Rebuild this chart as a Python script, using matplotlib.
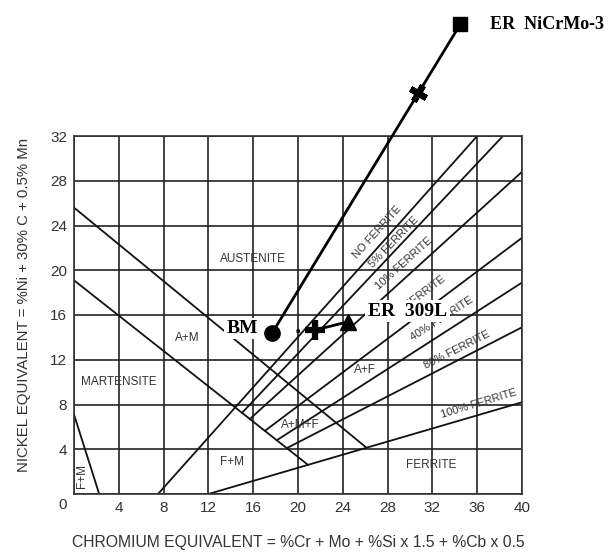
import numpy as np
import matplotlib.pyplot as plt

# Schaeffler diagram with BM / ER 309L / ER NiCrMo-3 points

# region boundaries (Cr eq, Ni eq)
upper_x = [0, 26.1]
upper_y = [25.6, 4.15]
lower_x = [0, 20.9]
lower_y = [19.1, 2.6]
fm_x = [0, 2.25]
fm_y = [7.1, 0]

# ferrite iso-lines: start and end points
ferrite_names = ['0', '5', '10', '20', '40', '80', '100']
ferrite_x0 = [7.5, 15.0, 15.7, 17.05, 18.1, 19.0, 12.0]
ferrite_y0 = [0.0, 7.25, 6.7, 5.65, 4.8, 4.1, 0.0]
ferrite_x1 = [36.0, 38.3, 40.0, 40.0, 40.0, 40.0, 40.0]
ferrite_y1 = [32.0, 32.0, 28.8, 22.9, 18.9, 14.9, 8.2]

# ferrite labels
flab_text = ['NO FERRITE', '5% FERRITE', '10% FERRITE', '20% FERRITE',
             '40% FERRITE', '80% FERRITE', '100% FERRITE']
flab_x = [27.1, 28.6, 29.5, 30.5, 32.85, 34.2, 36.1]
flab_y = [23.4, 22.55, 20.65, 17.35, 15.65, 12.85, 8.05]
flab_rot = [48, 46, 42, 37, 33, 27, 17]

# phase region labels
region_text = ['AUSTENITE', 'A+M', 'MARTENSITE', 'A+M+F', 'F+M', 'A+F', 'FERRITE']
region_x = [16.0, 10.1, 4.0, 20.2, 14.1, 26.0, 31.9]
region_y = [21.0, 13.9, 10.0, 6.2, 2.9, 11.1, 2.6]

# measured points
bm = (17.7, 14.4)
er309_plus = (21.5, 14.65)
er309_tri = (24.5, 15.4)
nicr_mid = (30.7, 35.8)
nicr_end = (34.5, 42.0)

xticks = list(range(0, 41, 4))
yticks = list(range(0, 33, 4))

fig = plt.figure(figsize=(6.09, 5.52), dpi=100)
ax = fig.add_axes([74/609, 58/552, 448/609, 358/552])
ax.set_xlim(0, 40)
ax.set_ylim(0, 32)
ax.set_xticks(xticks)
ax.set_yticks(yticks)
ax.set_xticklabels([''] + [str(t) for t in xticks[1:]])
ax.set_yticklabels([''] + [str(t) for t in yticks[1:]])
ax.tick_params(length=0, pad=5, labelsize=11, labelcolor='#333333')
for lab in ax.get_xticklabels() + ax.get_yticklabels():
    lab.set_family('Liberation Sans')
ax.grid(True, color='#222222', lw=1.2)
ax.set_axisbelow(True)
for s in ax.spines.values():
    s.set_color('#333333')
    s.set_linewidth(1.2)
ax.annotate('0', xy=(0, 0), xytext=(-11, -11), textcoords='offset pixels',
            ha='center', va='center', fontsize=11, color='#333333',
            family='Liberation Sans', annotation_clip=False)

lc = '#111111'
ax.plot(upper_x, upper_y, color=lc, lw=1.3)
ax.plot(lower_x, lower_y, color=lc, lw=1.3)
ax.plot(fm_x, fm_y, color=lc, lw=1.3)
for i in range(len(ferrite_names)):
    ax.plot([ferrite_x0[i], ferrite_x1[i]], [ferrite_y0[i], ferrite_y1[i]],
            color=lc, lw=1.3)

for t, x, y, r in zip(flab_text, flab_x, flab_y, flab_rot):
    ax.text(x, y, t, rotation=r, ha='center', va='center', fontsize=8,
            color='#333333', family='Liberation Sans', rotation_mode='anchor')

for t, x, y in zip(region_text, region_x, region_y):
    ax.text(x, y, t, ha='center', va='center', fontsize=8.5,
            color='#333333', family='Liberation Sans')
ax.text(0.7, 1.6, 'F+M', rotation=90, ha='center', va='center', fontsize=8.5,
        color='#333333', family='Liberation Sans')

# BM -> ER NiCrMo-3 path
ax.plot([bm[0], nicr_end[0]], [bm[1], nicr_end[1]], color='black', lw=2,
        clip_on=False, zorder=5)
# BM -> ER 309L dotted, then solid
ax.plot([bm[0], er309_plus[0]], [bm[1], er309_plus[1]], color='black', lw=2.5,
        linestyle=(0, (1, 6)), zorder=5)
ax.plot([er309_plus[0], er309_tri[0]], [er309_plus[1], er309_tri[1]],
        color='black', lw=2, zorder=5)

ax.plot(*bm, 'o', color='black', ms=11, zorder=6)
ax.plot(*er309_plus, '+', color='black', ms=14, mew=4.5, zorder=6)
ax.plot(*er309_tri, '^', color='black', ms=11, zorder=6)
ax.plot(*nicr_mid, marker=(4, 2, -30), color='black', ms=13, mew=4.5,
        zorder=6, clip_on=False)
ax.plot(*nicr_end, 's', color='black', ms=10, zorder=6, clip_on=False)

ax.text(15.0, 14.8, 'BM', ha='center', va='center', fontsize=14,
        fontweight='bold', family='Liberation Serif', zorder=7,
        bbox=dict(facecolor='white', edgecolor='none', pad=1.5))
ax.text(29.8, 16.35, 'ER  309L', ha='center', va='center', fontsize=14,
        fontweight='bold', family='Liberation Serif', zorder=7,
        bbox=dict(facecolor='white', edgecolor='none', pad=2))
ax.text(42.2, 42.0, 'ER  NiCrMo-3', ha='center', va='center', fontsize=13,
        fontweight='bold', family='Liberation Serif', zorder=7, clip_on=False)

fig.text(24/609, 1 - 305/552, 'NICKEL EQUIVALENT = %Ni + 30% C + 0.5% Mn',
         rotation=90, ha='center', va='center', fontsize=10.8,
         color='#333333', family='Liberation Sans')
fig.text(298/609, 1 - 543/552,
         'CHROMIUM EQUIVALENT = %Cr + Mo + %Si x 1.5 + %Cb x 0.5',
         ha='center', va='center', fontsize=11.3, color='#333333',
         family='Liberation Sans')

fig.savefig('out.png', dpi=100)
